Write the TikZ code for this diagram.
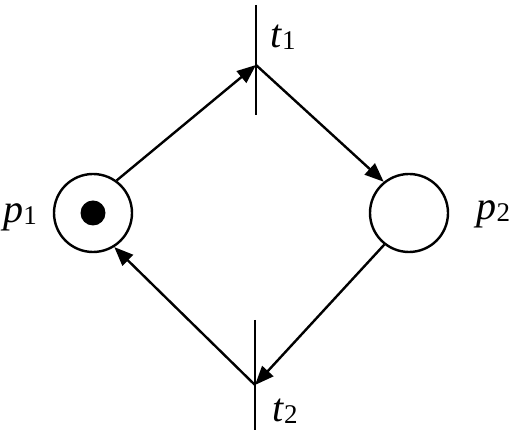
\documentclass[tikz,border=0pt]{standalone}
\usepackage{fontspec}
\setmainfont{Liberation Serif}
\newfontfamily\lblfont{Liberation Serif}
\usetikzlibrary{arrows.meta}
\newcommand{\pnlabel}[2]{\lblfont\fontsize{40}{40}\selectfont\itshape #1\upshape\kern0.5pt\raisebox{-2pt}{\fontsize{27}{27}\selectfont #2}}
\begin{document}
\begin{tikzpicture}[x=1pt,y=1pt,
  place/.style={circle,draw,line width=2.4pt,minimum size=78pt,inner sep=0pt},
  token/.style={circle,fill,inner sep=0pt,minimum size=25pt},
  arc/.style={line width=2.4pt,-{Triangle[length=19pt,width=15pt]}},
  bar/.style={line width=2.4pt},
  lbl/.style={inner sep=0pt}]
\useasboundingbox (0,0) rectangle (520,430);
\node[place] (p1) at (93,217) {};
\node[token] (tok) at (p1.center) {};
\node[place] (p2) at (409,217) {};
\coordinate (t1) at (256,365);
\coordinate (t2) at (255,45);
\coordinate (t1top) at (256,425);
\coordinate (t1bot) at (256,315);
\coordinate (t2top) at (255,110);
\coordinate (t2bot) at (255,0);
\draw[bar] (t1top) -- (t1bot);
\draw[bar] (t2top) -- (t2bot);
\draw[arc] (p1.54) -- (t1);
\draw[arc] (t1) -- (p2.129);
\draw[arc] (p2.232) -- (t2);
\draw[arc] (t2) -- (p1.302);
\node[lbl] (lp1) at (20,213) {\pnlabel{p}{1}};
\node[lbl] (lp2) at (493,216) {\pnlabel{p}{2}};
\node[lbl] (lt1) at (283,393) {\pnlabel{t}{1}};
\node[lbl] (lt2) at (285,19) {\pnlabel{t}{2}};
\end{tikzpicture}
\end{document}
